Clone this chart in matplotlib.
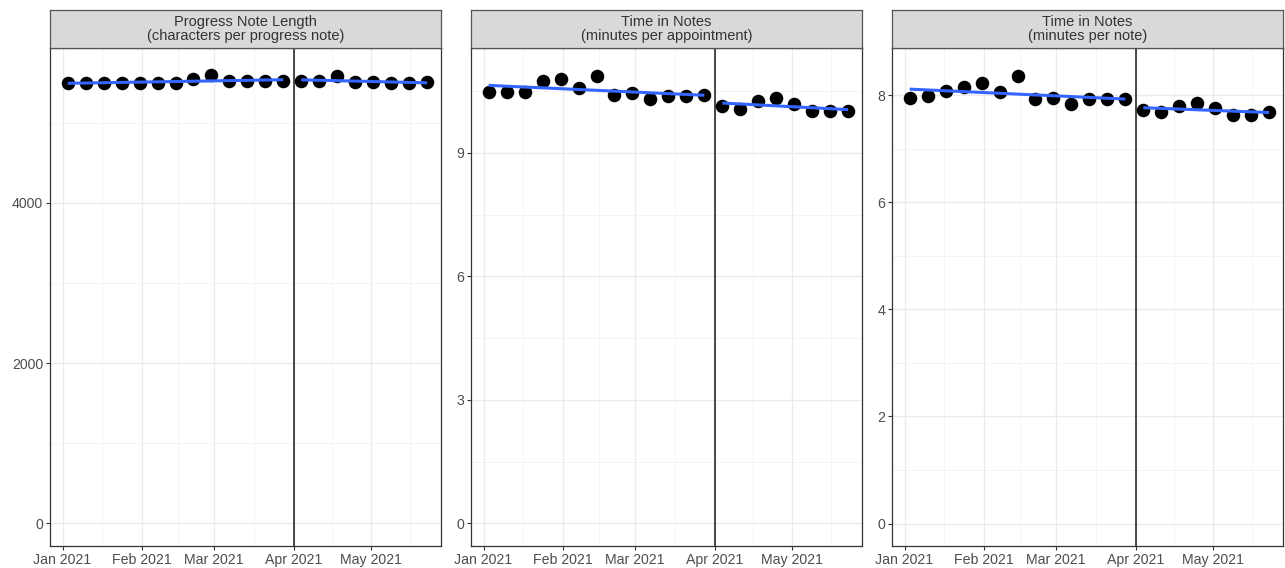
import matplotlib
matplotlib.use("Agg")
import matplotlib.pyplot as plt
import matplotlib.dates as mdates
import numpy as np
import pandas as pd

# weekly dates, before and after the April 2021 change
pre_dates = ["2021-01-03", "2021-01-10", "2021-01-17", "2021-01-24", "2021-01-31",
             "2021-02-07", "2021-02-14", "2021-02-21", "2021-02-28", "2021-03-07",
             "2021-03-14", "2021-03-21", "2021-03-28"]
post_dates = ["2021-04-04", "2021-04-11", "2021-04-18", "2021-04-25", "2021-05-02",
              "2021-05-09", "2021-05-16", "2021-05-23"]
cutoff = "2021-04-01"

titles = ["Progress Note Length\n(characters per progress note)",
          "Time in Notes\n(minutes per appointment)",
          "Time in Notes\n(minutes per note)"]

note_len_pre = [5490, 5495, 5495, 5500, 5500, 5500, 5495, 5540, 5590, 5515, 5515, 5525, 5520]
note_len_post = [5515, 5520, 5580, 5510, 5510, 5495, 5495, 5505]

min_appt_pre = [10.49, 10.49, 10.49, 10.74, 10.79, 10.57, 10.88, 10.40, 10.46, 10.31, 10.38, 10.38, 10.40]
min_appt_post = [10.14, 10.06, 10.27, 10.33, 10.20, 10.02, 10.02, 10.02]

min_note_pre = [7.95, 7.99, 8.07, 8.16, 8.22, 8.05, 8.36, 7.92, 7.94, 7.83, 7.92, 7.92, 7.92]
min_note_post = [7.72, 7.69, 7.79, 7.85, 7.76, 7.63, 7.63, 7.69]

series = [(note_len_pre, note_len_post), (min_appt_pre, min_appt_post), (min_note_pre, min_note_post)]
yticks = [[0, 2000, 4000], [0, 3, 6, 9], [0, 2, 4, 6, 8]]
yminor = [[1000, 3000, 5000], [1.5, 4.5, 7.5, 10.5], [1, 3, 5, 7]]
ylims = [(-282, 5932), (-0.55, 11.55), (-0.42, 8.88)]

plt.rcParams['font.family'] = ['Liberation Sans', 'DejaVu Sans']

W, H = 1285, 568
fig = plt.figure(figsize=(W / 100, H / 100), dpi=100)

lefts = [50, 471, 892]
pw = 391
ptop, pbot = 48, 546
strip_top = 10

xt = pd.to_datetime(["2021-01-01", "2021-02-01", "2021-03-01", "2021-04-01", "2021-05-01"])
xminor = pd.to_datetime(["2021-01-16 12:00", "2021-02-15 00:00", "2021-03-16 12:00",
                         "2021-04-16 00:00", "2021-05-16 12:00"])
x0 = pd.Timestamp("2021-01-01") - pd.Timedelta(days=4.9)
x1 = x0 + pd.Timedelta(days=pw / 2.567)

pre_x = pd.to_datetime(pre_dates)
post_x = pd.to_datetime(post_dates)

for i in range(3):
    ax = fig.add_axes([lefts[i] / W, (H - pbot) / H, pw / W, (pbot - ptop) / H])
    sax = fig.add_axes([lefts[i] / W, (H - ptop) / H, pw / W, (ptop - strip_top) / H])

    pre, post = series[i]
    ax.set_facecolor("white")
    for xm in xminor:
        ax.axvline(xm, color="#F2F2F2", lw=0.6, zorder=0)
    for ym in yminor[i]:
        ax.axhline(ym, color="#F2F2F2", lw=0.6, zorder=0)
    for xm in xt:
        ax.axvline(xm, color="#EBEBEB", lw=1.0, zorder=0)
    for ym in yticks[i]:
        ax.axhline(ym, color="#EBEBEB", lw=1.0, zorder=0)

    ax.axvline(pd.Timestamp(cutoff), color="#1a1a1a", lw=1.1, zorder=1)

    ax.scatter(pre_x, pre, s=95, color="black", zorder=3, linewidths=0)
    ax.scatter(post_x, post, s=95, color="black", zorder=3, linewidths=0)

    # linear fits for each segment
    for xs, ys in [(pre_x, pre), (post_x, post)]:
        xn = mdates.date2num(xs)
        b = np.polyfit(xn, ys, 1)
        ax.plot(xs, np.polyval(b, xn), color="#3366FF", lw=2.2, zorder=4,
                solid_capstyle="butt")

    ax.set_xlim(x0, x1)
    ax.set_ylim(*ylims[i])
    ax.set_xticks(xt)
    ax.xaxis.set_major_formatter(mdates.DateFormatter("%b %Y"))
    ax.set_yticks(yticks[i])
    ax.tick_params(axis="both", length=3, width=0.8, color="#333333",
                   labelcolor="#4D4D4D", labelsize=10.2, pad=2)
    for sp in ax.spines.values():
        sp.set_color("#333333")
        sp.set_linewidth(0.9)

    sax.set_facecolor("#D9D9D9")
    sax.set_xticks([])
    sax.set_yticks([])
    for sp in sax.spines.values():
        sp.set_color("#555555")
        sp.set_linewidth(0.9)
    sax.text(0.5, 0.5, titles[i], ha="center", va="center", fontsize=10.5,
             color="#333333", linespacing=1.0, transform=sax.transAxes)

fig.savefig("out.png", dpi=100, facecolor="white")
